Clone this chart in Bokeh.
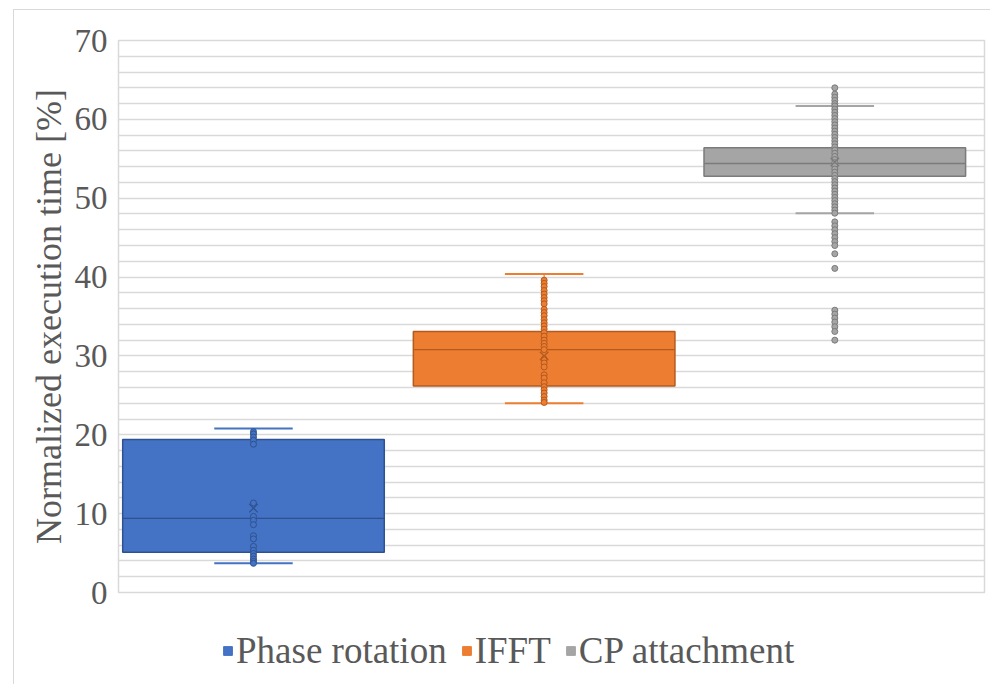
from bokeh.plotting import figure
from bokeh.layouts import column
from bokeh.models import Range1d, FixedTicker, Legend, LegendItem
from bokeh.embed import file_html
from bokeh.resources import INLINE

categories = ["Phase rotation", "IFFT", "CP attachment"]
q1 = [5.1, 26.2, 52.8]
median = [9.4, 30.8, 54.4]
q3 = [19.4, 33.1, 56.4]
whisker_low = [3.7, 24.0, 48.1]
whisker_high = [20.8, 40.4, 61.7]
mean = [10.7, 30.0, 54.6]

phase_points = [20.4, 20.1, 19.7, 19.3, 18.8, 11.35, 9.65, 9.15, 8.6,
                7.2, 6.8, 5.85, 5.35, 4.95, 4.6, 4.25, 3.95, 3.7]
ifft_points = [39.6, 39.2, 38.8, 38.3, 37.85, 37.4, 37.0, 36.6, 35.9, 35.5,
               35.1, 34.6, 34.2, 33.8, 33.4, 32.95, 32.5, 32.0, 31.6, 31.2,
               30.8, 29.6, 29.1, 28.6, 27.6, 27.2, 26.6, 26.1, 25.7, 25.3,
               24.85, 24.4, 24.1]
cp_points = [64.0, 63.2, 62.8, 62.4, 62.0, 61.7, 61.3, 60.9, 60.5, 60.1,
             59.7, 59.3, 58.9, 58.5, 58.1, 57.7, 57.3, 56.9, 56.5, 56.1,
             55.7, 55.3, 54.9, 54.5, 54.1, 53.7, 53.3, 52.9, 52.5, 52.1,
             51.7, 51.3, 50.9, 50.5, 50.1, 49.7, 49.3, 48.9, 48.5, 48.1,
             47.0, 46.5, 46.0, 45.5, 45.0, 44.5, 44.0, 42.95, 41.1,
             35.8, 35.3, 34.8, 34.3, 33.7, 33.1, 32.0]
all_points = [phase_points, ifft_points, cp_points]

y_ticks = [0, 10, 20, 30, 40, 50, 60, 70]

fills = ["#4472C4", "#ED7D31", "#A5A5A5"]
darks = ["#2F528F", "#B35A1F", "#7B7B7B"]
text_color = "#595959"
font = "Liberation Serif"

p = figure(width=990, height=612, output_backend="svg", toolbar_location=None,
           x_range=Range1d(0.5356, 3.515), y_range=Range1d(0, 70),
           min_border_left=118, min_border_right=6, min_border_top=40,
           min_border_bottom=20)

p.background_fill_color = "white"
p.border_fill_color = None
p.outline_line_color = "#d9d9d9"
p.outline_line_width = 1.5

p.xaxis.visible = False
p.xgrid.visible = False
p.ygrid.ticker = FixedTicker(ticks=list(range(0, 71, 2)))
p.ygrid.grid_line_color = "#d9d9d9"
p.ygrid.grid_line_width = 1.3

ax = p.yaxis[0]
ax.ticker = FixedTicker(ticks=y_ticks)
ax.axis_line_color = None
ax.major_tick_line_color = None
ax.minor_tick_line_color = None
ax.major_label_text_font = font
ax.major_label_text_font_size = "33px"
ax.major_label_text_color = text_color
ax.major_label_standoff = 5
ax.axis_label = "Normalized execution time [%]"
ax.axis_label_text_font = font
ax.axis_label_text_font_size = "36px"
ax.axis_label_text_font_style = "normal"
ax.axis_label_text_color = text_color
ax.axis_label_standoff = 3

xs = [1, 2, 3]
box_w = 0.9
cap_w = 0.27
for i in range(3):
    x = xs[i]
    p.segment(x0=[x, x], y0=[q3[i], q1[i]], x1=[x, x], y1=[whisker_high[i], whisker_low[i]],
              line_color=fills[i], line_width=1.2)
    p.segment(x0=[x - cap_w / 2, x - cap_w / 2], y0=[whisker_high[i], whisker_low[i]],
              x1=[x + cap_w / 2, x + cap_w / 2], y1=[whisker_high[i], whisker_low[i]],
              line_color=fills[i], line_width=2)
    p.vbar(x=[x], width=box_w, bottom=[q1[i]], top=[q3[i]],
           fill_color=fills[i], line_color=darks[i], line_width=1.5)
    p.segment(x0=[x - box_w / 2], y0=[median[i]], x1=[x + box_w / 2], y1=[median[i]],
              line_color=darks[i], line_width=1.3)
    pts = all_points[i]
    p.scatter(x=[x] * len(pts), y=pts, marker="circle", size=6,
              fill_color=fills[i], line_color=darks[i], line_width=1)
    p.scatter(x=[x], y=[mean[i]], marker="x", size=12, line_color=darks[i], line_width=1.3)

# legend strip below the chart
p2 = figure(width=990, height=72, output_backend="svg", toolbar_location=None,
            x_range=Range1d(0, 1), y_range=Range1d(0, 1),
            min_border_left=0, min_border_right=0, min_border_top=0, min_border_bottom=0)
p2.axis.visible = False
p2.grid.visible = False
p2.outline_line_color = None
p2.background_fill_color = None
p2.border_fill_color = None

items = []
for i in range(3):
    # legend swatches only; their bars lie outside the visible range
    r = p2.vbar(x=[-0.5], width=0.05, bottom=[-0.6], top=[-0.5],
                fill_color=fills[i], line_color=fills[i], line_width=1)
    items.append(LegendItem(label=categories[i], renderers=[r]))

legend = Legend(items=items, orientation="horizontal", location=(104, 12),
                label_text_font=font, label_text_font_size="37px",
                label_text_color=text_color, glyph_width=11, glyph_height=11,
                label_standoff=3, spacing=14, padding=0, margin=0,
                border_line_color=None, background_fill_alpha=0)
p2.add_layout(legend, "center")

layout = column(p, p2, spacing=0)
layout.styles = {"background": "linear-gradient(#d9d9d9,#d9d9d9) 13px 9px / 1px 100% no-repeat, "
                               "linear-gradient(#d9d9d9,#d9d9d9) 13px 9px / 100% 1px no-repeat, white"}

open("out.html", "w").write(file_html(layout, INLINE))
